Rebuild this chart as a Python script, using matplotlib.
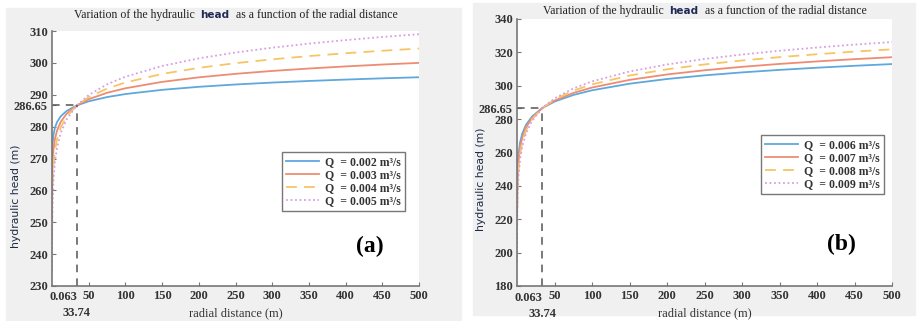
import matplotlib.pyplot as plt
from matplotlib.patches import Rectangle
import matplotlib.transforms as mtransforms

r = [0.063, 0.2, 0.5, 1, 2, 4, 7, 12, 20, 33.74, 50, 75, 100, 150,
     200, 250, 300, 350, 400, 450, 500]

# panel (a): Q = 0.002 .. 0.005 m3/s
h_a_002 = [266.04, 269.83, 272.83, 275.11, 277.38, 279.66, 281.49, 283.26, 284.93, 286.65,
           287.94, 289.27, 290.22, 291.54, 292.49, 293.22, 293.82, 294.32, 294.76, 295.15, 295.49]
h_a_003 = [255.55, 261.27, 265.80, 269.23, 272.66, 276.10, 278.86, 281.53, 284.06, 286.65,
           288.60, 290.61, 292.03, 294.04, 295.46, 296.56, 297.47, 298.23, 298.89, 299.48, 300.00]
h_a_004 = [245.06, 252.70, 258.77, 263.35, 267.94, 272.54, 276.24, 279.80, 283.19, 286.65,
           289.25, 291.94, 293.85, 296.53, 298.43, 299.91, 301.11, 302.13, 303.02, 303.80, 304.50]
h_a_005 = [234.56, 244.14, 251.73, 257.48, 263.22, 268.98, 273.61, 278.08, 282.31, 286.65,
           289.91, 293.27, 295.66, 299.02, 301.41, 303.25, 304.76, 306.04, 307.15, 308.13, 309.00]

# panel (b): Q = 0.006 .. 0.009 m3/s
h_b_006 = [225.27, 236.55, 245.50, 252.27, 259.04, 265.82, 271.28, 276.55, 281.54, 286.65,
           290.49, 294.46, 297.27, 301.23, 304.04, 306.22, 308.00, 309.50, 310.81, 311.96, 312.99]
h_b_007 = [215.65, 228.70, 239.05, 246.89, 254.72, 262.56, 268.88, 274.97, 280.74, 286.65,
           291.09, 295.68, 298.93, 303.51, 306.76, 309.28, 311.34, 313.08, 314.59, 315.93, 317.11]
h_b_008 = [204.72, 219.78, 231.73, 240.76, 249.80, 258.85, 266.14, 273.17, 279.83, 286.65,
           291.77, 297.07, 300.82, 306.11, 309.86, 312.77, 315.14, 317.15, 318.90, 320.44, 321.81]
h_b_009 = [194.48, 211.42, 224.86, 235.03, 245.19, 255.37, 263.57, 271.48, 278.98, 286.65,
           292.42, 298.37, 302.60, 308.54, 312.76, 316.03, 318.70, 320.96, 322.93, 324.66, 326.20]

labels_a = ['Q  = 0.002 m³/s', 'Q  = 0.003 m³/s', 'Q  = 0.004 m³/s', 'Q  = 0.005 m³/s']
labels_b = ['Q  = 0.006 m³/s', 'Q  = 0.007 m³/s', 'Q  = 0.008 m³/s', 'Q  = 0.009 m³/s']

r_ref = 33.74
h_ref = 286.65

colors = ['#5fa8dc', '#ee8c72', '#f7c466', '#d99ee3']
styles = ['-', '-', (0, (6, 4)), (0, (1, 1.5))]

SERIF = 'Liberation Serif'
TICK_FS = 9

fig = plt.figure(figsize=(9.21, 3.21), dpi=100)
fig.patch.set_facecolor('white')

# grey panel backgrounds
fig.add_artist(Rectangle((6 / 921, 0), 455 / 921, 313 / 321,
                         transform=fig.transFigure, color='#f0f0f0', zorder=0))
fig.add_artist(Rectangle((473 / 921, 6 / 321), 442 / 921, 312 / 321,
                         transform=fig.transFigure, color='#f0f0f0', zorder=0))

ax_a = fig.add_axes([52 / 921, 35 / 321, 367 / 921, 255 / 321])
ax_b = fig.add_axes([517 / 921, 35 / 321, 375 / 921, 267 / 321])

titles = []


def draw_panel(ax, series, labels, ylim, yticks, tag, leg_anchor, ylab_y, title_y):
    for h, lab, c, ls in zip(series, labels, colors, styles):
        ax.plot(r, h, color=c, linestyle=ls, linewidth=1.3, label=lab)

    # reference lines at the common point
    ax.plot([0, r_ref], [h_ref, h_ref], color='#555555', linestyle=(0, (5, 4)), linewidth=1.1)
    ax.plot([r_ref, r_ref], [ylim[0], h_ref], color='#555555', linestyle=(0, (5, 4)), linewidth=1.1)

    ax.set_xlim(0, 500)
    ax.set_ylim(*ylim)
    ax.set_xticks(list(range(50, 501, 50)))
    ax.set_yticks(yticks + [h_ref])
    ax.set_yticklabels([str(t) for t in yticks] + ['286.65'])

    for s in ['top', 'right']:
        ax.spines[s].set_visible(False)
    for s in ['left', 'bottom']:
        ax.spines[s].set_color('#777777')
        ax.spines[s].set_linewidth(1.2)
    ax.tick_params(direction='in', length=3, width=0.8, color='#777777', pad=3)
    for lbl in ax.get_xticklabels() + ax.get_yticklabels():
        lbl.set_fontfamily(SERIF)
        lbl.set_fontweight('bold')
        lbl.set_fontsize(TICK_FS)
        lbl.set_color('#333333')

    trans = mtransforms.blended_transform_factory(ax.transData, ax.transAxes)
    ax.text(-3, -0.045, '0.063', transform=trans, ha='left', va='center',
            fontfamily=SERIF, fontweight='bold', fontsize=TICK_FS, color='#333333')
    ax.text(r_ref, -0.105, '33.74', transform=trans, ha='center', va='center',
            fontfamily=SERIF, fontweight='bold', fontsize=TICK_FS, color='#333333')

    ax.set_xlabel('radial distance (m)', fontfamily=SERIF, fontsize=9,
                  color='#333333', labelpad=4)
    ax.set_ylabel('hydraulic head (m)', fontfamily='DejaVu Sans', fontsize=7.8,
                  color='#1f2a44')
    ax.yaxis.set_label_coords(-0.084, ylab_y)

    leg = ax.legend(loc='upper right', bbox_to_anchor=leg_anchor, frameon=True,
                    fancybox=False, handlelength=2.8, borderpad=0.35,
                    labelspacing=0.1, handletextpad=0.5, borderaxespad=0,
                    prop={'family': SERIF, 'weight': 'bold', 'size': 8.5})
    leg.get_frame().set_edgecolor('#555555')
    leg.get_frame().set_linewidth(1.0)
    for t in leg.get_texts():
        t.set_color('#333333')

    ax.text(0.865, 0.155, tag, transform=ax.transAxes, ha='center', va='center',
            fontfamily=SERIF, fontweight='bold', fontsize=17, color='black')

    # title with the word "head" in a different font
    t1 = ax.text(0.5, title_y, 'Variation of the hydraulic  ', transform=ax.transAxes,
                 ha='left', va='center', fontfamily=SERIF, fontsize=8.5, color='#222222')
    t2 = ax.annotate('head', xy=(1, 0.5), xycoords=t1, va='center', ha='left',
                     fontfamily='DejaVu Sans', fontweight='bold', fontsize=7.5,
                     color='#1f2a55')
    t3 = ax.annotate('  as a function of the radial distance', xy=(1, 0.5), xycoords=t2,
                     va='center', ha='left', fontfamily=SERIF, fontsize=8.5, color='#222222')
    titles.append((ax, t1, t2, t3))


draw_panel(ax_a, [h_a_002, h_a_003, h_a_004, h_a_005], labels_a, (230, 310),
           list(range(230, 311, 10)), '(a)', (0.962, 0.527), 0.35, 1.063)
draw_panel(ax_b, [h_b_006, h_b_007, h_b_008, h_b_009], labels_b, (180, 340),
           list(range(180, 341, 20)), '(b)', (0.979, 0.567), 0.4, 1.030)

# center each three-part title over its axes
fig.canvas.draw()
renderer = fig.canvas.get_renderer()
for ax, t1, t2, t3 in titles:
    x0 = t1.get_window_extent(renderer).x0
    x1 = t3.get_window_extent(renderer).x1
    width_ax = (x1 - x0) / ax.bbox.width
    t1.set_x(0.5 - width_ax / 2)

fig.savefig('out.png', dpi=100)
